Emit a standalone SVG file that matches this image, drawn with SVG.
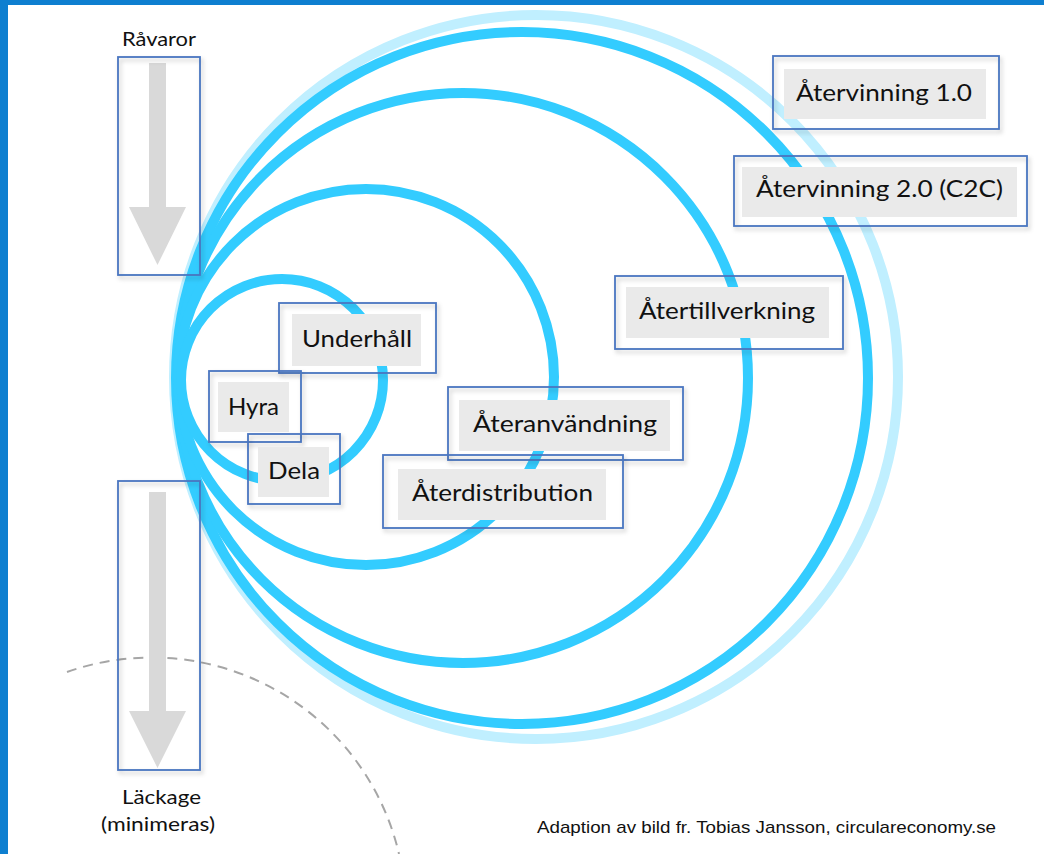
<svg xmlns="http://www.w3.org/2000/svg" width="1044" height="854" viewBox="0 0 1044 854">
  <style>
    .ring { fill: none; stroke: #33CCFF; stroke-width: 10; }
    .ring-light { fill: none; stroke: #C0EFFF; stroke-width: 10; }
    .box { fill: none; stroke: #4A76C0; stroke-width: 1.8; filter: url(#shadow); }
    .label-bg { fill: #EAEAEA; }
    .label { font-family: Lato, "Noto Sans", "DejaVu Sans", sans-serif; font-size: 24px; fill: #111111; }
    .side { font-family: Lato, "Noto Sans", "DejaVu Sans", sans-serif; font-size: 19px; fill: #111111; }
    .credit { font-family: "Liberation Sans", Arial, sans-serif; font-size: 17px; fill: #111111; }
    .arrow { fill: #D9D9D9; }
  </style>
  <defs>
    <filter id="shadow" x="-10%" y="-10%" width="130%" height="140%">
      <feDropShadow dx="2" dy="3" stdDeviation="2" flood-color="#000000" flood-opacity="0.22"/>
    </filter>
  </defs>

  <!-- background and frame -->
  <rect x="0" y="0" width="1044" height="854" fill="#FFFFFF"/>
  <rect x="0" y="0" width="1044" height="5" fill="#0E7FD0"/>
  <rect x="0" y="0" width="8" height="854" fill="#0E7FD0"/>

  <!-- dashed boundary arc -->
  <path d="M 67 672 A 254 254 0 0 1 399 854" fill="none" stroke="#A6A6A6" stroke-width="2" stroke-dasharray="10 7"/>

  <!-- loops -->
  <g id="connectors">
    <circle class="ring-light" cx="536" cy="377" r="362"/>
    <circle class="ring" cx="522" cy="378" r="346"/>
    <circle class="ring" cx="463" cy="378" r="285"/>
    <circle class="ring" cx="366" cy="377" r="188"/>
    <circle class="ring" cx="282" cy="380" r="101"/>
  </g>

  <g id="ravaror">
    <text class="side" x="122" y="46" textLength="74" lengthAdjust="spacingAndGlyphs">Råvaror</text>
    <polygon class="arrow" points="149,63 166,63 166,207 186,207 157.5,265 129,207 149,207"/>
    <rect class="box" x="118" y="57" width="82" height="218"/>
  </g>

  <g id="lackage">
    <polygon class="arrow" points="149,492 166,492 166,711 186,711 157.5,768 129,711 149,711"/>
    <rect class="box" x="118" y="481" width="82" height="289"/>
    <text class="side" x="122" y="804" textLength="79" lengthAdjust="spacingAndGlyphs">Läckage</text>
    <text class="side" x="101" y="831" textLength="114" lengthAdjust="spacingAndGlyphs">(minimeras)</text>
  </g>

  <g id="atervinning1">
    <rect class="label-bg" x="784" y="69" width="202" height="50"/>
    <rect class="box" x="773" y="56" width="226" height="73"/>
    <text class="label" x="796" y="101" textLength="176" lengthAdjust="spacingAndGlyphs">Återvinning 1.0</text>
  </g>

  <g id="atervinning2">
    <rect class="label-bg" x="742" y="167" width="275" height="50"/>
    <rect class="box" x="734" y="156" width="293" height="70"/>
    <text class="label" x="756" y="197" textLength="247" lengthAdjust="spacingAndGlyphs">Återvinning 2.0 (C2C)</text>
  </g>

  <g id="atertillverkning">
    <rect class="label-bg" x="626" y="287" width="203" height="51"/>
    <rect class="box" x="615" y="276" width="228" height="73"/>
    <text class="label" x="639" y="319" textLength="176" lengthAdjust="spacingAndGlyphs">Återtillverkning</text>
  </g>

  <g id="underhall">
    <rect class="label-bg" x="292" y="314" width="129" height="52"/>
    <rect class="box" x="279" y="303" width="157" height="70"/>
    <text class="label" x="302" y="347" textLength="110" lengthAdjust="spacingAndGlyphs">Underhåll</text>
  </g>

  <g id="hyra">
    <rect class="label-bg" x="218" y="382" width="71" height="50"/>
    <rect class="box" x="209" y="371" width="92" height="71"/>
    <text class="label" x="228" y="415" textLength="51" lengthAdjust="spacingAndGlyphs">Hyra</text>
  </g>

  <g id="dela">
    <rect class="label-bg" x="258" y="447" width="71" height="50"/>
    <rect class="box" x="248" y="434" width="92" height="70"/>
    <text class="label" x="268" y="479" textLength="52" lengthAdjust="spacingAndGlyphs">Dela</text>
  </g>

  <g id="ateranvandning">
    <rect class="label-bg" x="459" y="400" width="211" height="51"/>
    <rect class="box" x="448" y="387" width="235" height="73"/>
    <text class="label" x="473" y="432" textLength="184" lengthAdjust="spacingAndGlyphs">Återanvändning</text>
  </g>

  <g id="aterdistribution">
    <rect class="label-bg" x="398" y="469" width="208" height="51"/>
    <rect class="box" x="383" y="455" width="240" height="73"/>
    <text class="label" x="412" y="501" textLength="181" lengthAdjust="spacingAndGlyphs">Återdistribution</text>
  </g>

  <g id="credit">
    <text class="credit" x="537" y="833" textLength="459" lengthAdjust="spacingAndGlyphs">Adaption av bild fr. Tobias Jansson, circulareconomy.se</text>
  </g>
</svg>
